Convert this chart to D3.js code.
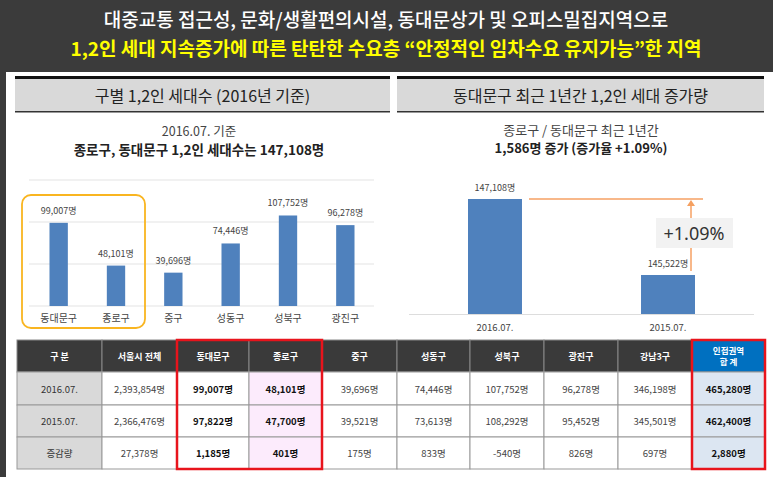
<!DOCTYPE html><html><head><meta charset="utf-8"><script src="https://cdn.jsdelivr.net/npm/d3@7"></script>
<style>body{margin:0}svg{display:block;font-family:"Noto Sans CJK KR",sans-serif}</style></head><body><svg id="c" width="773" height="477"></svg><script>
const districts=["동대문구","종로구","중구","성동구","성북구","광진구"];
const households2016=[99007,48101,39696,74446,107752,96278];
const yAxisTicks=[0,50000,100000,150000];
const periods=["2016.07.","2015.07."];
const combined=[147108,145522];
const tableHeader=["구  분","서울시 전체","동대문구","종로구","중구","성동구","성북구","광진구","강남3구","인접권역\n합    계"];
const rowLabels=["2016.07.","2015.07.","증감량"];
const row2016=["2,393,854명","99,007명","48,101명","39,696명","74,446명","107,752명","96,278명","346,198명","465,280명"];
const row2015=["2,366,476명","97,822명","47,700명","39,521명","73,613명","108,292명","95,452명","345,501명","462,400명"];
const rowDiff=["27,378명","1,185명","401명","175명","833명","-540명","826명","697명","2,880명"];
const fmt=d3.format(",");
const svg=d3.select("#c");
svg.append("rect").attr("width",773).attr("height",477).attr("fill","#3b3b3b");
svg.append("rect").attr("x",6).attr("y",72).attr("width",767).attr("height",405).attr("fill","#fff");
svg.append("text").attr("x",386).attr("y",27).attr("text-anchor","middle").attr("fill","#fff").attr("font-size",19).attr("font-weight",500).text("대중교통 접근성, 문화/생활편의시설, 동대문상가 및 오피스밀집지역으로");
svg.append("text").attr("x",386).attr("y",56).attr("text-anchor","middle").attr("fill","#ffff00").attr("font-size",19).attr("font-weight",700).text("1,2인 세대 지속증가에 따른 탄탄한 수요층 \u201C안정적인 임차수요 유지가능\u201D한 지역");
[[15,375,"구별 1,2인 세대수 (2016년 기준)"],[397,367,"동대문구 최근 1년간 1,2인 세대 증가량"]].forEach(([x,w,t])=>{
 svg.append("rect").attr("x",x).attr("y",76).attr("width",w).attr("height",3).attr("fill","#111");
 svg.append("rect").attr("x",x).attr("y",79).attr("width",w).attr("height",32).attr("fill","#d9d9d9");
 svg.append("rect").attr("x",x).attr("y",111).attr("width",w).attr("height",1.5).attr("fill","#333");
 svg.append("text").attr("x",x+w/2).attr("y",102).attr("text-anchor","middle").attr("font-size",16).attr("fill","#222").text(t);
});
svg.append("text").attr("x",199).attr("y",136).attr("text-anchor","middle").attr("font-size",12.5).attr("fill","#444").text("2016.07. 기준");
svg.append("text").attr("x",199).attr("y",155).attr("text-anchor","middle").attr("font-size",13.5).attr("font-weight",700).attr("fill","#222").text("종로구, 동대문구 1,2인 세대수는 147,108명");
const xL=d3.scaleBand().domain(districts).range([30,374]).paddingInner(0.68).paddingOuter(0.34);
const yL=d3.scaleLinear().domain([0,150000]).range([306,180]);
svg.append("g").selectAll("line").data(yAxisTicks).join("line").attr("x1",29).attr("x2",374).attr("y1",d=>yL(d)).attr("y2",d=>yL(d)).attr("stroke","#e3e3e3");
svg.append("g").selectAll("rect").data(households2016).join("rect").attr("x",(d,i)=>xL(districts[i])).attr("width",xL.bandwidth()).attr("y",d=>yL(d)).attr("height",d=>306-yL(d)).attr("fill","#4f81bd");
svg.append("g").selectAll("text").data(households2016).join("text").attr("x",(d,i)=>xL(districts[i])+xL.bandwidth()/2).attr("y",d=>yL(d)-9).attr("text-anchor","middle").attr("font-size",9).attr("fill","#444").text(d=>fmt(d)+"명");
svg.append("g").attr("transform","translate(0,306)").call(d3.axisBottom(xL).tickSize(0).tickPadding(9)).call(g=>{g.select(".domain").remove();g.selectAll("text").attr("font-size",10).attr("fill","#444").attr("font-family","Noto Sans CJK KR")});
svg.append("rect").attr("x",22).attr("y",195).attr("width",123).attr("height",133).attr("rx",9).attr("fill","none").attr("stroke","#f9b520").attr("stroke-width",1.8);
svg.append("text").attr("x",581).attr("y",135).attr("text-anchor","middle").attr("font-size",13).attr("fill","#444").text("종로구 / 동대문구 최근 1년간");
svg.append("text").attr("x",581).attr("y",153).attr("text-anchor","middle").attr("font-size",13).attr("font-weight",700).attr("fill","#222").text("1,586명 증가 (증가율 +1.09%)");
const xR=d3.scaleBand().domain(periods).range([468,695]).paddingInner(0.688).paddingOuter(0);
const yR=d3.scaleLinear().domain([144708,147108]).range([314,199]);
svg.append("line").attr("x1",409).attr("x2",754).attr("y1",314.5).attr("y2",314.5).attr("stroke","#ddd");
svg.append("g").selectAll("rect").data(combined).join("rect").attr("x",(d,i)=>xR(periods[i])).attr("width",xR.bandwidth()).attr("y",d=>yR(d)).attr("height",d=>314-yR(d)).attr("fill","#4f81bd");
svg.append("g").selectAll("text").data(combined).join("text").attr("x",(d,i)=>xR(periods[i])+xR.bandwidth()/2).attr("y",d=>yR(d)-8).attr("text-anchor","middle").attr("font-size",9).attr("fill","#444").text(d=>fmt(d)+"명");
svg.append("g").attr("transform","translate(0,314)").call(d3.axisBottom(xR).tickSize(0).tickPadding(10)).call(g=>{g.select(".domain").remove();g.selectAll("text").attr("font-size",9.5).attr("fill","#444").attr("font-family","Noto Sans CJK KR")});
const topY=yR(combined[0]),ax=691;
svg.append("line").attr("x1",529).attr("x2",703).attr("y1",topY).attr("y2",topY).attr("stroke","#f8b88a").attr("stroke-width",2);
svg.append("line").attr("x1",ax).attr("x2",ax).attr("y1",yR(combined[1])-4).attr("y2",topY+5).attr("stroke","#f8b88a").attr("stroke-width",2);
svg.append("path").attr("d",`M${ax-4},${topY+7}L${ax},${topY+1}L${ax+4},${topY+7}Z`).attr("fill","#f5a060");
svg.append("rect").attr("x",656).attr("y",218).attr("width",77).attr("height",30).attr("fill","#f2f2f2");
svg.append("text").attr("x",694).attr("y",240).attr("text-anchor","middle").attr("font-size",18).attr("fill","#333").attr("font-family","Noto Sans").text("+1.09%");
const cols=[17,102,177,249,322,397,470,544,618,692,765];
const rows=[340,372,405,437,469];
const data=[row2016,row2015,rowDiff];
const tg=svg.append("g");
tableHeader.forEach((h,i)=>{
 tg.append("rect").attr("x",cols[i]).attr("y",rows[0]).attr("width",cols[i+1]-cols[i]).attr("height",rows[1]-rows[0]).attr("fill",i==9?"#0070c0":"#3a3a3a").attr("stroke","#888");
 const ls=h.split("\n");
 ls.forEach((l,k)=>tg.append("text").attr("x",(cols[i]+cols[i+1])/2).attr("y",(rows[0]+rows[1])/2+3.5+(k-(ls.length-1)/2)*11).attr("text-anchor","middle").attr("font-size",ls.length>1?8.5:9).attr("font-weight",700).attr("fill","#fff").text(l));
});
rowLabels.forEach((r,j)=>{
 const y0=rows[j+1],h=rows[j+2]-rows[j+1];
 tg.append("rect").attr("x",cols[0]).attr("y",y0).attr("width",cols[1]-cols[0]).attr("height",h).attr("fill","#d9d9d9").attr("stroke","#999");
 tg.append("text").attr("x",(cols[0]+cols[1])/2).attr("y",y0+h/2+4).attr("text-anchor","middle").attr("font-size",9.5).attr("fill","#333").text(r);
 data[j].forEach((v,i)=>{
  const c=i+1,bold=(c==2||c==3||c==9);
  tg.append("rect").attr("x",cols[c]).attr("y",y0).attr("width",cols[c+1]-cols[c]).attr("height",h).attr("fill",c==3?"#fcebfc":c==9?"#dce6f2":"#fff").attr("stroke","#999");
  tg.append("text").attr("x",(cols[c]+cols[c+1])/2).attr("y",y0+h/2+4).attr("text-anchor","middle").attr("font-size",9.5).attr("font-weight",bold?700:400).attr("fill",bold?"#111":"#444").text(v);
 });
});
tg.append("rect").attr("x",177).attr("y",340).attr("width",145).attr("height",129).attr("fill","none").attr("stroke","#e8141c").attr("stroke-width",2.5);
tg.append("rect").attr("x",692).attr("y",340).attr("width",73).attr("height",129).attr("fill","none").attr("stroke","#e8141c").attr("stroke-width",2.5);
</script></body></html>
